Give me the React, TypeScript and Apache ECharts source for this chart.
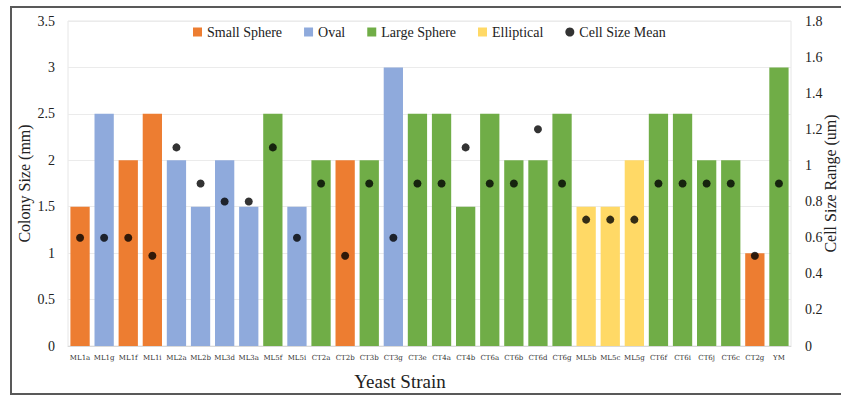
import React, { useEffect, useRef } from "react";
import * as echarts from "echarts";

const categories = ["ML1a","ML1g","ML1f","ML1i","ML2a","ML2b","ML3d","ML3a","ML5f","ML5i","CT2a","CT2b","CT3b","CT3g","CT3e","CT4a","CT4b","CT6a","CT6b","CT6d","CT6g","ML5b","ML5c","ML5g","CT6f","CT6i","CT6j","CT6c","CT2g","YM"];
const colonySize = [1.5,2.5,2,2.5,2,1.5,2,1.5,2.5,1.5,2,2,2,3,2.5,2.5,1.5,2.5,2,2,2.5,1.5,1.5,2,2.5,2.5,2,2,1,3];
const shapeType = ["Small Sphere","Oval","Small Sphere","Small Sphere","Oval","Oval","Oval","Oval","Large Sphere","Oval","Large Sphere","Small Sphere","Large Sphere","Oval","Large Sphere","Large Sphere","Large Sphere","Large Sphere","Large Sphere","Large Sphere","Large Sphere","Elliptical","Elliptical","Elliptical","Large Sphere","Large Sphere","Large Sphere","Large Sphere","Small Sphere","Large Sphere"];
const cellSizeMean = [0.6,0.6,0.6,0.5,1.1,0.9,0.8,0.8,1.1,0.6,0.9,0.5,0.9,0.6,0.9,0.9,1.1,0.9,0.9,1.2,0.9,0.7,0.7,0.7,0.9,0.9,0.9,0.9,0.5,0.9];
const shapes = ["Small Sphere","Oval","Large Sphere","Elliptical"];
const shapeColors = ["#ED7D31","#8FAADC","#70AD47","#FFD966"];
const leftTicks = { min: 0, max: 3.5, interval: 0.5 };
const rightTicks = { min: 0, max: 1.8, interval: 0.2 };

const FONT = "'Liberation Serif', 'DejaVu Serif', serif";

export default function App() {
  const ref = useRef<HTMLDivElement>(null);
  useEffect(() => {
    if (!ref.current) return;
    const chart = echarts.init(ref.current, null, { renderer: "svg" });
    const barSeries = shapes.map((s, i) => ({
      name: s,
      type: "bar",
      stack: "shape",
      barCategoryGap: "20%",
      itemStyle: { color: shapeColors[i] },
      data: colonySize.map((v, j) => (shapeType[j] === s ? v : "-")),
    }));
    chart.setOption({
      animation: false,
      textStyle: { fontFamily: FONT },
      graphic: [
        { type: "rect", shape: { x: 11, y: 7, width: 840, height: 387 }, style: { fill: "none", stroke: "#595959", lineWidth: 2 }, silent: true },
        { type: "text", x: 400, y: 381, style: { text: "Yeast Strain", font: "19px " + FONT, fill: "#222", align: "center", verticalAlign: "middle" } },
      ],
      legend: {
        top: 20,
        left: 188,
        itemWidth: 9,
        itemHeight: 9,
        itemGap: 22,
        textStyle: { fontSize: 14, color: "#222", fontFamily: FONT },
        data: [...shapes.map((s) => ({ name: s, icon: "rect" })), { name: "Cell Size Mean", icon: "circle" }],
      },
      grid: { left: 68, right: 50, top: 21, bottom: 51, show: true, borderColor: "#E6E6E6", borderWidth: 1, outerBoundsMode: "none", containLabel: false },
      xAxis: {
        type: "category",
        data: categories,
        axisTick: { show: false },
        axisLine: { lineStyle: { color: "#D9D9D9" } },
        axisLabel: { fontSize: 7, color: "#333", interval: 0, margin: 8, fontFamily: "'DejaVu Serif', serif" },
      },
      yAxis: [
        {
          type: "value",
          ...leftTicks,
          name: "Colony Size (mm)",
          nameLocation: "middle",
          nameGap: 36,
          nameMoveOverlap: false,
          nameTextStyle: { fontSize: 16, color: "#222" },
          axisLabel: { fontSize: 14, color: "#222", margin: 13 },
          splitLine: { lineStyle: { color: "#EBEBEB" } },
          axisLine: { show: false },
          axisTick: { show: false },
        },
        {
          type: "value",
          ...rightTicks,
          position: "right",
          name: "Cell Size Range (um)",
          nameLocation: "middle",
          nameRotate: 90,
          nameGap: 31,
          nameMoveOverlap: false,
          nameTextStyle: { fontSize: 16, color: "#222" },
          axisLabel: { fontSize: 14, color: "#222", margin: 14 },
          splitLine: { show: false },
          axisLine: { show: false },
          axisTick: { show: false },
        },
      ],
      series: [
        ...barSeries,
        {
          name: "Cell Size Mean",
          type: "scatter",
          yAxisIndex: 1,
          symbol: "circle",
          symbolSize: 8,
          itemStyle: { color: "#000" },
          data: cellSizeMean,
          z: 5,
        },
      ],
    });
    return () => chart.dispose();
  }, []);
  return <div ref={ref} style={{ position: "absolute", left: 0, top: 0, width: 841, height: 397 }} />;
}
